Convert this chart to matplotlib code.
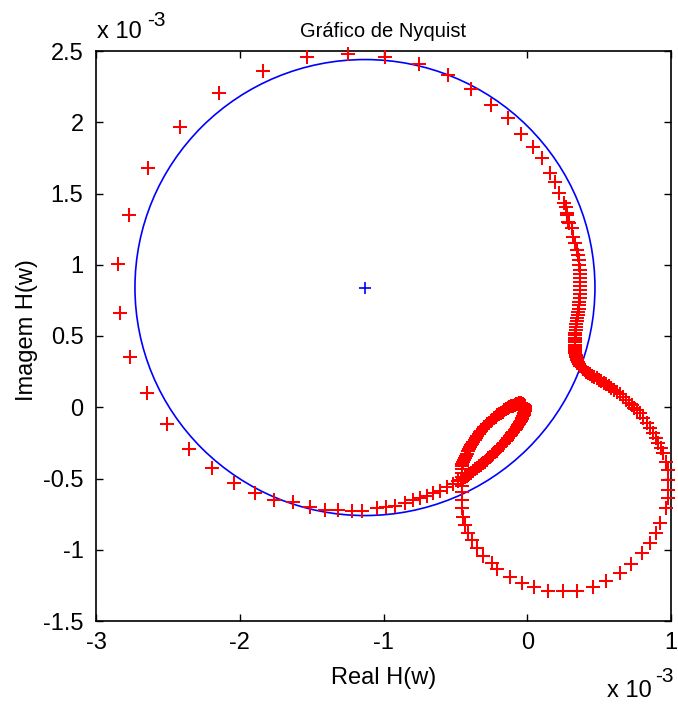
import matplotlib
matplotlib.use("Agg")
import matplotlib.pyplot as plt
from matplotlib.patches import Circle
from matplotlib.ticker import FuncFormatter
import numpy as np

plt.rcParams['font.family'] = ['Liberation Sans', 'DejaVu Sans']
plt.rcParams['axes.unicode_minus'] = False

SCALE = 1e-3  # all response values below are in units of 1e-3

# Frequency response samples, outer (fast-varying) part of the curve
outer_re = [0.309, 0.286, 0.274, 0.256, 0.221, 0.193, 0.158, 0.100, 0.042, -0.043,
            -0.132, -0.252, -0.393, -0.553, -0.751, -0.987, -1.245, -1.534, -1.840, -2.142,
            -2.416, -2.636, -2.772, -2.845, -2.833, -2.763, -2.647, -2.508, -2.355, -2.191,
            -2.040, -1.894, -1.760, -1.627, -1.511, -1.407, -1.314, -1.221, -1.152, -1.047,
            -0.983, -0.920, -0.850, -0.793, -0.746, -0.700, -0.653, -0.607, -0.560, -0.514]
outer_im = [1.256, 1.302, 1.361, 1.431, 1.501, 1.583, 1.646, 1.747, 1.829, 1.920,
            2.030, 2.119, 2.231, 2.329, 2.407, 2.456, 2.479, 2.456, 2.360, 2.207,
            1.969, 1.677, 1.347, 1.003, 0.664, 0.355, 0.098, -0.115, -0.295, -0.429,
            -0.534, -0.604, -0.651, -0.663, -0.698, -0.721, -0.721, -0.726, -0.726, -0.709,
            -0.702, -0.693, -0.670, -0.651, -0.639, -0.623, -0.604, -0.586, -0.562, -0.539]

# Near-vertical stretch around Re = 0.35 and the band leading into the second mode
column_re = [0.270, 0.279, 0.293, 0.320, 0.332, 0.344, 0.355, 0.360, 0.362, 0.365,
             0.367, 0.367, 0.367, 0.367, 0.367, 0.366, 0.365, 0.363, 0.361, 0.358,
             0.355, 0.351, 0.347, 0.344, 0.341, 0.338, 0.336, 0.334, 0.332, 0.331,
             0.330, 0.330, 0.330, 0.331, 0.332, 0.333, 0.335, 0.337, 0.340, 0.344,
             0.349, 0.355, 0.362, 0.370, 0.379, 0.389, 0.400, 0.412, 0.425, 0.438,
             0.452, 0.467, 0.482, 0.498, 0.514, 0.531, 0.548, 0.566, 0.585, 0.604,
             0.624, 0.645, 0.667, 0.690, 0.710, 0.727, 0.745, 0.765, 0.784]
column_im = [1.407, 1.349, 1.291, 1.197, 1.151, 1.104, 1.068, 1.033, 0.999, 0.966,
             0.935, 0.905, 0.876, 0.848, 0.820, 0.793, 0.767, 0.741, 0.716, 0.692,
             0.669, 0.646, 0.624, 0.603, 0.582, 0.562, 0.543, 0.524, 0.506, 0.489,
             0.472, 0.456, 0.440, 0.425, 0.410, 0.396, 0.382, 0.368, 0.355, 0.342,
             0.329, 0.316, 0.304, 0.292, 0.281, 0.270, 0.260, 0.250, 0.240, 0.231,
             0.222, 0.212, 0.203, 0.193, 0.183, 0.172, 0.161, 0.149, 0.136, 0.122,
             0.107, 0.090, 0.071, 0.052, 0.033, 0.015, -0.005, -0.022, -0.042]

# Lower-right loop
loop_re = [0.808, 0.831, 0.855, 0.877, 0.895, 0.912, 0.928, 0.942, 0.965, 0.977,
           0.981, 0.981, 0.977, 0.965, 0.923, 0.896, 0.854, 0.796, 0.722, 0.645,
           0.546, 0.455, 0.344, 0.247, 0.146, 0.047, -0.039, -0.120, -0.213, -0.247,
           -0.306, -0.352, -0.386, -0.410, -0.433, -0.445, -0.452, -0.455, -0.457, -0.457,
           -0.456, -0.455, -0.454, -0.453]
loop_im = [-0.078, -0.113, -0.148, -0.183, -0.218, -0.253, -0.288, -0.323, -0.382, -0.440,
           -0.511, -0.581, -0.639, -0.709, -0.814, -0.885, -0.955, -1.025, -1.100, -1.161,
           -1.217, -1.264, -1.287, -1.287, -1.287, -1.264, -1.231, -1.189, -1.137, -1.091,
           -1.044, -0.990, -0.932, -0.885, -0.826, -0.768, -0.709, -0.651, -0.593, -0.555,
           -0.520, -0.490, -0.460, -0.430]

# Small inner loop near the origin (densely sampled)
inner_re = [-0.480, -0.464, -0.448, -0.433, -0.418, -0.403, -0.389, -0.375, -0.361, -0.347,
            -0.334, -0.321, -0.308, -0.295, -0.283, -0.271, -0.259, -0.247, -0.236, -0.224,
            -0.213, -0.202, -0.191, -0.180, -0.170, -0.160, -0.150, -0.140, -0.131, -0.122,
            -0.113, -0.104, -0.096, -0.088, -0.080, -0.072, -0.065, -0.058, -0.051, -0.045,
            -0.039, -0.034, -0.029, -0.025, -0.021, -0.018, -0.016, -0.015, -0.015, -0.018,
            -0.022, -0.029, -0.036, -0.045, -0.055, -0.066, -0.077, -0.088, -0.100, -0.112,
            -0.124, -0.136, -0.148, -0.160, -0.172, -0.184, -0.196, -0.208, -0.220, -0.231,
            -0.243, -0.255, -0.266, -0.277, -0.288, -0.299, -0.309, -0.319, -0.329, -0.339,
            -0.348, -0.357, -0.366, -0.375, -0.383, -0.391, -0.398, -0.406, -0.413, -0.420,
            -0.427, -0.434, -0.440, -0.446, -0.452, -0.453]
inner_im = [-0.520, -0.510, -0.500, -0.490, -0.479, -0.469, -0.458, -0.447, -0.436, -0.425,
            -0.414, -0.403, -0.392, -0.381, -0.370, -0.359, -0.348, -0.337, -0.326, -0.315,
            -0.304, -0.293, -0.282, -0.271, -0.260, -0.249, -0.238, -0.227, -0.216, -0.205,
            -0.194, -0.183, -0.172, -0.161, -0.150, -0.139, -0.128, -0.117, -0.106, -0.095,
            -0.084, -0.073, -0.062, -0.051, -0.040, -0.029, -0.018, -0.007, 0.003, 0.011,
            0.017, 0.022, 0.026, 0.028, 0.027, 0.025, 0.022, 0.017, 0.012, 0.006,
            0.000, -0.007, -0.014, -0.022, -0.030, -0.039, -0.048, -0.057, -0.067, -0.077,
            -0.087, -0.097, -0.108, -0.119, -0.130, -0.141, -0.153, -0.165, -0.177, -0.189,
            -0.202, -0.215, -0.228, -0.241, -0.255, -0.268, -0.280, -0.295, -0.310, -0.325,
            -0.340, -0.355, -0.370, -0.385, -0.400, -0.415]

# Fitted circle: centre and radius
circle_center = (-1.129, 0.840)
circle_radius = 1.60

W, H = 678, 711
fig = plt.figure(figsize=(W / 100, H / 100), dpi=100)
ax = fig.add_axes([96 / W, 1 - 621 / H, 575 / W, 570 / H])

red_re = np.concatenate([outer_re, column_re, loop_re, inner_re]) * SCALE
red_im = np.concatenate([outer_im, column_im, loop_im, inner_im]) * SCALE

ax.add_patch(Circle((circle_center[0] * SCALE, circle_center[1] * SCALE),
                    circle_radius * SCALE, fill=False, edgecolor=(0, 0, 1), linewidth=1.2,
                    zorder=2))
ax.plot(red_re, red_im, '+', color=(1, 0, 0), markersize=10, markeredgewidth=1.45,
        linestyle='none', clip_on=False, zorder=3)
ax.plot([circle_center[0] * SCALE], [circle_center[1] * SCALE], '+', color=(0, 0, 1),
        markersize=9, markeredgewidth=1.2, linestyle='none', zorder=4)

ax.set_xlim(-3 * SCALE, 1 * SCALE)
ax.set_ylim(-1.5 * SCALE, 2.5 * SCALE)
ax.set_xticks(np.arange(-3, 1.01, 1) * SCALE)
ax.set_yticks(np.arange(-1.5, 2.51, 0.5) * SCALE)
fmt = FuncFormatter(lambda v, pos: f"{v / SCALE:g}")
ax.xaxis.set_major_formatter(fmt)
ax.yaxis.set_major_formatter(fmt)

ax.tick_params(direction='in', top=True, right=True, length=5, width=1.0,
               labelsize=17, colors='black')
ax.tick_params(axis='x', pad=8)
ax.tick_params(axis='y', pad=9)
for sp in ax.spines.values():
    sp.set_linewidth(1.2)

ax.set_title('Gráfico de Nyquist', fontsize=14.5, pad=10)
ax.set_xlabel('Real H(w)', fontsize=17)
ax.set_ylabel('Imagem H(w)', fontsize=17)
ax.xaxis.label.set_va('center')
ax.yaxis.label.set_va('center')
ax.xaxis.set_label_coords(0.5, (621 - 678) / 570)
ax.yaxis.set_label_coords((27 - 96) / 575, (621 - 330) / 570)

# exponent annotations
fig.text(97 / W, 1 - 32 / H, 'x 10', fontsize=17, ha='left', va='center')
fig.text(147 / W, 1 - 21 / H, '-3', fontsize=15, ha='left', va='center')
fig.text(607 / W, 1 - 691 / H, 'x 10', fontsize=17, ha='left', va='center')
fig.text(655 / W, 1 - 677 / H, '-3', fontsize=15, ha='left', va='center')

fig.savefig('out.png', dpi=100, facecolor='white')
